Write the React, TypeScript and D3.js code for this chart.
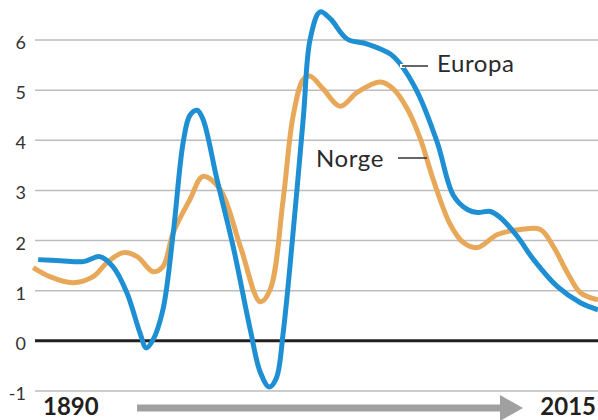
import React from "react";
import * as d3 from "d3";

const W = 598;
const H = 420;

const yTicks = [-1, 0, 1, 2, 3, 4, 5, 6];

const europaYears = [1890.7, 1895.6, 1900.7, 1904.4, 1907.3, 1910.4, 1913.3, 1914.7, 1916.2, 1918.4, 1920.7, 1922.9, 1924.4, 1926, 1927.3, 1930.4, 1934, 1937.8, 1940, 1942, 1943.6, 1945.1, 1947.3, 1949.6, 1951.1, 1953.3, 1955.6, 1959.3, 1963.8, 1968.9, 1971.1, 1974.9, 1979.3, 1982.9, 1986, 1988.2, 1991.1, 1993.3, 1997.1, 2000.7, 2006, 2011.1, 2015];
const europaValues = [1.62, 1.6, 1.58, 1.68, 1.48, 0.96, 0.16, -0.14, 0.02, 0.62, 2.16, 3.96, 4.5, 4.6, 4.42, 3.22, 1.88, 0.22, -0.62, -0.92, -0.74, 0.16, 2.16, 4.48, 6.02, 6.56, 6.42, 6.02, 5.92, 5.72, 5.52, 4.96, 3.96, 2.9, 2.62, 2.56, 2.58, 2.46, 2.08, 1.62, 1.08, 0.76, 0.62];

const norgeYears = [1889.6, 1893.3, 1898.4, 1902.9, 1906, 1909.6, 1912.7, 1916.2, 1918.4, 1920.7, 1924.4, 1927.3, 1931.1, 1935.6, 1940, 1942.2, 1945.1, 1947.3, 1949.6, 1951.1, 1954, 1957.8, 1961.6, 1966.7, 1969.6, 1972.7, 1975.6, 1978.4, 1982.2, 1985.1, 1988.2, 1992.7, 1997.8, 2002.2, 2005.1, 2008.2, 2011.1, 2015];
const norgeValues = [1.46, 1.28, 1.16, 1.28, 1.56, 1.76, 1.68, 1.38, 1.48, 2.16, 2.82, 3.28, 3.02, 1.88, 0.78, 1.02, 2.82, 4.48, 5.22, 5.28, 5.02, 4.68, 4.96, 5.16, 5.02, 4.62, 4.02, 3.22, 2.32, 1.96, 1.86, 2.12, 2.22, 2.22, 1.88, 1.36, 0.96, 0.82];

const startLabel = "1890";
const endLabel = "2015";

const FONT = "Lato, 'Noto Sans', sans-serif";

export default function App() {
  const x = d3.scaleLinear().domain([1890, 2015]).range([35, 598]);
  const y = d3.scaleLinear().domain([-1, 6]).range([391, 40]);
  const line = d3
    .line<[number, number]>()
    .x((d) => x(d[0]))
    .y((d) => y(d[1]))
    .curve(d3.curveCatmullRom.alpha(0.5));

  const europa = europaYears.map((yr, i) => [yr, europaValues[i]] as [number, number]);
  const norge = norgeYears.map((yr, i) => [yr, norgeValues[i]] as [number, number]);

  return (
    <div style={{ position: "absolute", left: 0, top: 0 }}>
      <svg width={W} height={H} style={{ display: "block", background: "#fff" }}>
        {yTicks.map((t) => (
          <g key={t}>
            <line
              x1={35}
              x2={598}
              y1={y(t)}
              y2={y(t)}
              stroke={t === 0 ? "#231f20" : "#bdbdbd"}
              strokeWidth={t === 0 ? 3 : 1.5}
            />
            <text
              x={26}
              y={y(t) + 9}
              textAnchor="end"
              fontFamily={FONT}
              fontSize={18}
              fill="#333"
            >
              {t}
            </text>
          </g>
        ))}
        <path d={line(norge) || ""} fill="none" stroke="#e8a85a" strokeWidth={5} />
        <path d={line(europa) || ""} fill="none" stroke="#1e8fd2" strokeWidth={5} />

        {/* labels */}
        <line x1={400} x2={405} y1={66} y2={66} stroke="#fff" strokeWidth={4} />
        <line x1={402} x2={428} y1={66} y2={66} stroke="#333" strokeWidth={1.5} />
        <text x={437} y={72} fontFamily={FONT} fontSize={24} letterSpacing={0.6} fill="#2a2a2a">Europa</text>
        <line x1={398} x2={427} y1={158} y2={158} stroke="#333" strokeWidth={1.5} />
        <text x={316} y={167} fontFamily={FONT} fontSize={24} letterSpacing={0.6} fill="#2a2a2a">Norge</text>

        {/* bottom arrow */}
        <line x1={137} x2={502} y1={408} y2={408} stroke="#a0a0a0" strokeWidth={7} />
        <path d="M500,395 L523,408 L500,421 Z" fill="#a0a0a0" />
        <text x={43} y={415} fontFamily={FONT} fontSize={24} fontWeight={700} fill="#231f20">{startLabel}</text>
        <text x={596} y={415} textAnchor="end" fontFamily={FONT} fontSize={24} fontWeight={700} fill="#231f20">{endLabel}</text>
      </svg>
    </div>
  );
}
